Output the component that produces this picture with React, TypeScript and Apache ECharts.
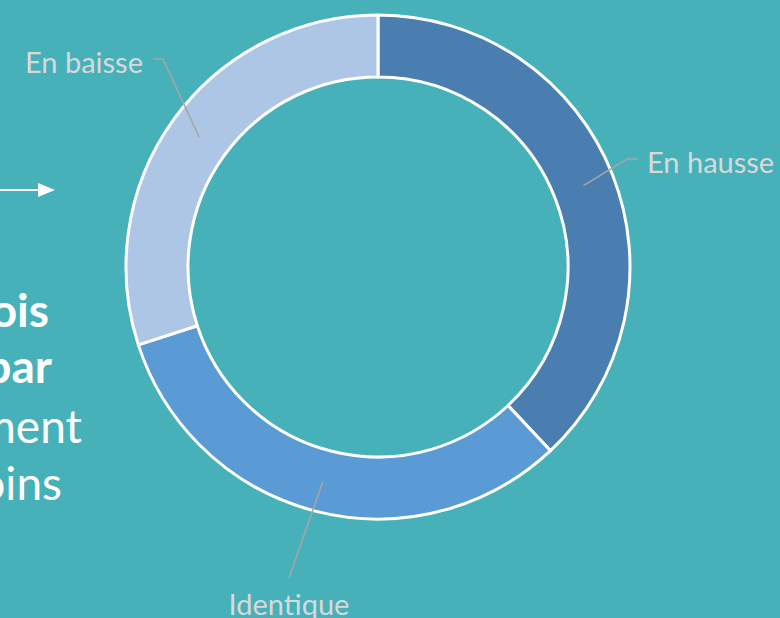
import React, { useEffect, useRef } from "react";
import * as echarts from "echarts";

// ---- data ----
const CATEGORIES = ["En hausse", "Identique", "En baisse"];
const VALUES = [38, 32, 30];
const COLORS = ["#4A7EB0", "#5B9BD5", "#AEC6E6"];
const SIDE_TEXT_BOLD = ["fois", "par"];
const SIDE_TEXT_REGULAR = ["seulement", "moins"];

// ---- layout ----
const W = 780;
const H = 618;
const CX = 378;
const CY = 267;
const R_IN = 190;
const R_OUT = 252;
const R_MID = (R_IN + R_OUT) / 2;
const BG = "#47B1BA";

const LABEL_LAYOUT = [
  { x: 647, y: 161, align: "left", bend: [[627, 159], [638, 159]] },
  { x: 289, y: 603, align: "center", bend: [[289, 578], [289, 578]] },
  { x: 143, y: 61, align: "right", bend: [[163, 59], [153, 59]] },
];

function midPoint(i: number) {
  const total = VALUES.reduce((a, b) => a + b, 0);
  let cum = 0;
  for (let k = 0; k < i; k++) cum += VALUES[k];
  const a = ((cum + VALUES[i] / 2) / total) * Math.PI * 2;
  return [CX + R_MID * Math.sin(a), CY - R_MID * Math.cos(a)];
}

export default function App() {
  const ref = useRef<HTMLDivElement>(null);
  useEffect(() => {
    if (!ref.current) return;
    const chart = echarts.init(ref.current, null, { renderer: "svg" });
    const sideFs = 46;
    const textStyle = (text: string, x: number, y: number, bold: boolean) => ({
      type: "text",
      silent: true,
      style: {
        text,
        x,
        y,
        align: "right",
        verticalAlign: "middle",
        fill: "#FFFFFF",
        fontSize: sideFs,
        fontWeight: bold ? "bold" : "normal",
        fontFamily: "Lato",
      },
    });
    const graphic: any[] = [
      {
        type: "line",
        shape: { x1: 0, y1: 190, x2: 48, y2: 190 },
        style: { stroke: "#FFFFFF", lineWidth: 2 },
        silent: true,
      },
      {
        type: "polygon",
        shape: { points: [[38, 183], [55, 190], [38, 197]] },
        style: { fill: "#FFFFFF" },
        silent: true,
      },
      textStyle(SIDE_TEXT_BOLD[0], 49, 309, true),
      textStyle(SIDE_TEXT_BOLD[1], 52, 365, true),
      textStyle(SIDE_TEXT_REGULAR[0], 82, 425, false),
      textStyle(SIDE_TEXT_REGULAR[1], 62, 482, false),
    ];
    const data = CATEGORIES.map((name, i) => ({
      name,
      value: VALUES[i],
      itemStyle: { color: COLORS[i] },
    }));
    chart.setOption({
      animation: false,
      backgroundColor: BG,
      graphic,
      series: [
        {
          type: "pie",
          z: 2,
          center: [CX, CY],
          radius: [R_IN, R_OUT],
          startAngle: 90,
          clockwise: true,
          silent: true,
          emphasis: { disabled: true },
          itemStyle: { borderColor: "#FFFFFF", borderWidth: 3 },
          label: { show: false },
          labelLine: { show: false },
          data,
        },
        {
          type: "pie",
          z: 5,
          center: [CX, CY],
          radius: [0, R_MID],
          startAngle: 90,
          clockwise: true,
          avoidLabelOverlap: false,
          silent: true,
          emphasis: { disabled: true },
          itemStyle: { color: "rgba(0,0,0,0)", borderWidth: 0 },
          label: {
            show: true,
            position: "outside",
            formatter: "{b}",
            color: "#D9D9D9",
            fontSize: 29,
            fontFamily: "Lato",
          },
          labelLine: {
            show: true,
            lineStyle: { color: "#A6A6A6", width: 1.5 },
          },
          labelLayout: (params: any) => {
            const i = params.dataIndex;
            const L = LABEL_LAYOUT[i];
            return {
              x: L.x,
              y: L.y,
              align: L.align,
              verticalAlign: "middle",
              labelLinePoints: [midPoint(i), L.bend[0], L.bend[1]],
            };
          },
          data: CATEGORIES.map((name, i) => ({
            name,
            value: VALUES[i],
            itemStyle: { color: "rgba(0,0,0,0)" },
          })),
        },
      ],
    });
    return () => chart.dispose();
  }, []);
  return (
    <div
      ref={ref}
      style={{ position: "absolute", left: 0, top: 0, width: W, height: H }}
    />
  );
}
